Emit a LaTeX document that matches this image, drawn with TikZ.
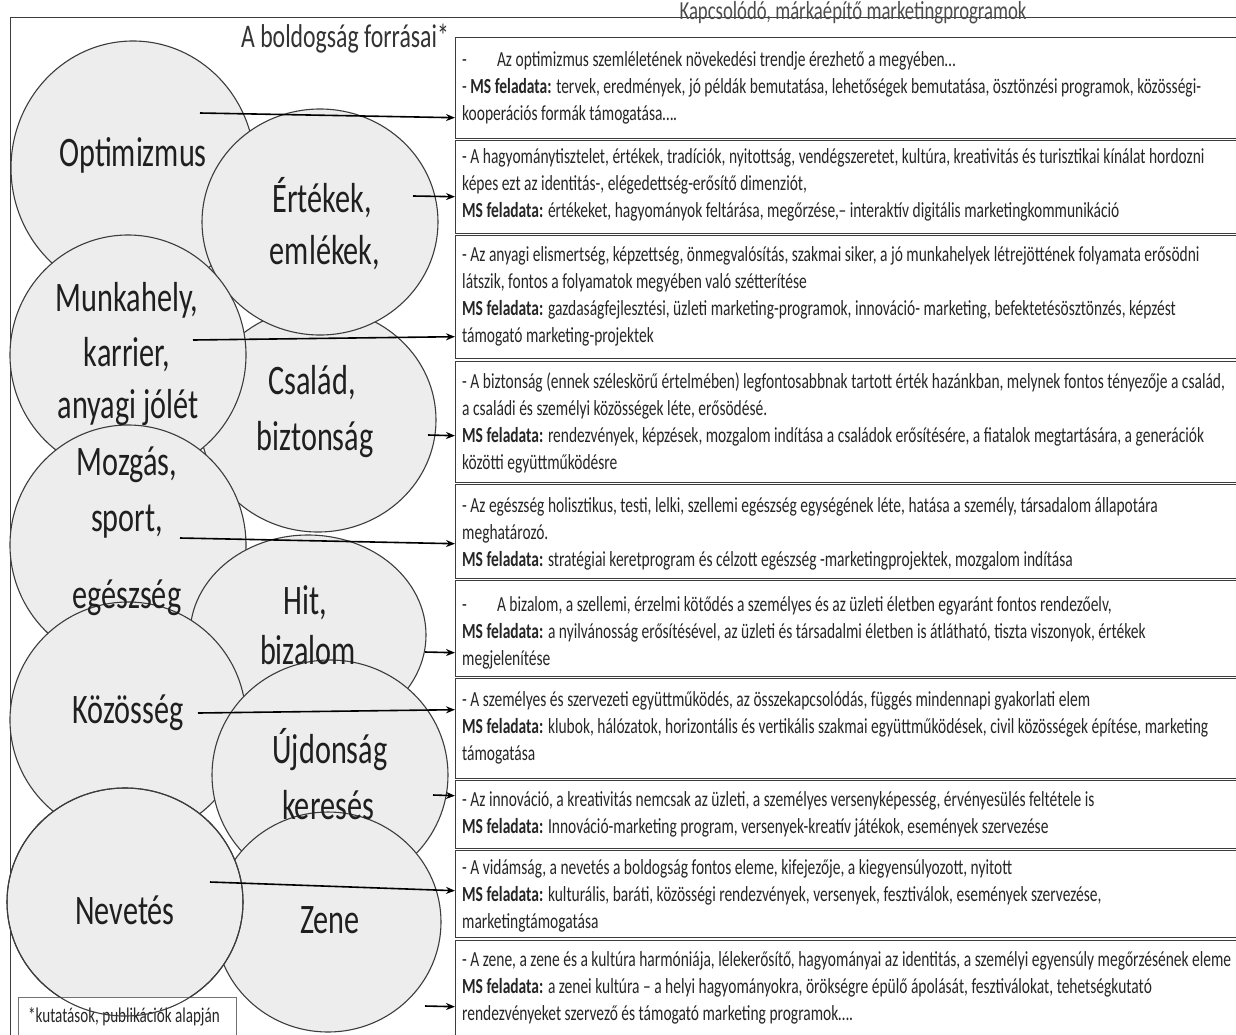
\documentclass[tikz,border=0pt]{standalone}
\usepackage{fontspec}
\setmainfont[FakeStretch=0.72]{Carlito}
\usetikzlibrary{shapes.geometric,arrows.meta}
\definecolor{bubblefill}{HTML}{EEEDED}
\definecolor{inkgray}{HTML}{3C3C3C}
\begin{document}
\begin{tikzpicture}[x=1pt,y=-1pt,
  bubble/.style={ellipse, draw=inkgray, line width=1.1pt, fill=bubblefill, inner sep=0pt},
  blabel/.style={font=\fontsize{42}{46}\selectfont, text=black!88, inner sep=0pt},
  infobox/.style={draw=inkgray, line width=1.4pt, fill=white, anchor=north west, minimum width=781pt, inner sep=0pt},
  infotext/.style={anchor=north west, align=left, inner sep=0pt, font=\fontsize{21.5}{27}\selectfont, text=black!85},
  link/.style={line width=1.6pt, -{Stealth[length=9pt,width=7pt]}}
]
\useasboundingbox[fill=white] (0,0) rectangle (1236,1034);

% outer frame
\draw[inkgray, line width=1pt] (10,1040) -- (10,17) -- (1240,17);

% headings
\node[font=\fontsize{26}{28}\selectfont, text=black!70, inner sep=0pt] (head2) at (853,13) {Kapcsolódó, márkaépítő marketingprogramok};
\node[font=\fontsize{33}{36}\selectfont, text=black!80, inner sep=0pt] (head1) at (345,39) {A boldogság forrásai*};

% right column boxes
\node[infobox, minimum height=101pt] (b1) at (455,37) {};
\node[infobox, minimum height=93pt]  (b2) at (455,140) {};
\node[infobox, minimum height=123pt] (b3) at (455,235) {};
\node[infobox, minimum height=121pt] (b4) at (455,361) {};
\node[infobox, minimum height=94pt]  (b5) at (455,484) {};
\node[infobox, minimum height=96pt]  (b6) at (455,580) {};
\node[infobox, minimum height=100pt] (b7) at (455,678) {};
\node[infobox, minimum height=68pt]  (b8) at (455,780) {};
\node[infobox, minimum height=87pt]  (b9) at (455,850) {};
\node[infobox, minimum height=100pt] (b10) at (455,940) {};

% box texts
\node[infotext] (t1) at (462,51) {-\hspace{1.4em}Az optimizmus szemléletének növekedési trendje érezhető a megyében…\\
- \textbf{MS feladata:} tervek, eredmények, jó példák bemutatása, lehetőségek bemutatása, ösztönzési programok, közösségi-\\
kooperációs formák támogatása….};
\node[infotext] (t2) at (462,148) {- A hagyománytisztelet, értékek, tradíciók, nyitottság, vendégszeretet, kultúra, kreativitás és turisztikai kínálat hordozni\\
képes ezt az identitás-, elégedettség-erősítő dimenziót,\\
\textbf{MS feladata:} értékeket, hagyományok feltárása, megőrzése,– interaktív digitális marketingkommunikáció};
\node[infotext] (t3) at (462,246) {- Az anyagi elismertség, képzettség, önmegvalósítás, szakmai siker, a jó munkahelyek létrejöttének folyamata erősödni\\
látszik, fontos a folyamatok megyében való szétterítése\\
\textbf{MS feladata:} gazdaságfejlesztési, üzleti marketing-programok, innováció- marketing, befektetésösztönzés, képzést\\
támogató marketing-projektek};
\node[infotext] (t4) at (462,373) {- A biztonság (ennek széleskörű értelmében) legfontosabbnak tartott érték hazánkban, melynek fontos tényezője a család,\\
a családi és személyi közösségek léte, erősödésé.\\
\textbf{MS feladata:} rendezvények, képzések, mozgalom indítása a családok erősítésére, a fiatalok megtartására, a generációk\\
közötti együttműködésre};
\node[infotext] (t5) at (462,497) {- Az egészség holisztikus, testi, lelki, szellemi egészség egységének léte, hatása a személy, társadalom állapotára\\
meghatározó.\\
\textbf{MS feladata:} stratégiai keretprogram és célzott egészség -marketingprojektek, mozgalom indítása};
\node[infotext] (t6) at (462,596) {-\hspace{1.4em}A bizalom, a szellemi, érzelmi kötődés a személyes és az üzleti életben egyaránt fontos rendezőelv,\\
\textbf{MS feladata:} a nyilvánosság erősítésével, az üzleti és társadalmi életben is átlátható, tiszta viszonyok, értékek\\
megjelenítése};
\node[infotext] (t7) at (462,691) {- A személyes és szervezeti együttműködés, az összekapcsolódás, függés mindennapi gyakorlati elem\\
\textbf{MS feladata:} klubok, hálózatok, horizontális és vertikális szakmai együttműködések, civil közösségek építése, marketing\\
támogatása};
\node[infotext] (t8) at (462,791) {- Az innováció, a kreativitás nemcsak az üzleti, a személyes versenyképesség, érvényesülés feltétele is\\
\textbf{MS feladata:} Innováció-marketing program, versenyek-kreatív játékok, események szervezése};
\node[infotext] (t9) at (462,859) {- A vidámság, a nevetés a boldogság fontos eleme, kifejezője, a kiegyensúlyozott, nyitott\\
\textbf{MS feladata:} kulturális, baráti, közösségi rendezvények, versenyek, fesztiválok, események szervezése,\\
marketingtámogatása};
\node[infotext] (t10) at (462,951) {- A zene, a zene és a kultúra harmóniája, lélekerősítő, hagyományai az identitás, a személyi egyensúly megőrzésének eleme\\
\textbf{MS feladata:} a zenei kultúra – a helyi hagyományokra, örökségre épülő ápolását, fesztiválokat, tehetségkutató\\
rendezvényeket szervező és támogató marketing programok….};

% sources of happiness
\node[bubble, minimum width=244pt, minimum height=254pt] (opt) at (133,168) {};
\node[bubble, minimum width=236pt, minimum height=224pt] (csa) at (318,420) {};
\node[bubble, minimum width=236pt, minimum height=226pt] (ert) at (320,222) {};
\node[bubble, minimum width=236pt, minimum height=240pt] (mun) at (128,355) {};
\node[bubble, minimum width=236pt, minimum height=240pt] (moz) at (128,545) {};
\node[bubble, minimum width=236pt, minimum height=200pt] (hit) at (308,635) {};
\node[bubble, minimum width=236pt, minimum height=236pt] (koz) at (128,720) {};
\node[bubble, minimum width=236pt, minimum height=230pt] (ujd) at (330,775) {};
\node[bubble, minimum width=226pt, minimum height=220pt] (zen) at (328,922) {};
\node[bubble, minimum width=236pt, minimum height=228pt] (nev) at (125,902) {};

% footnote
\node[draw=black!55, line width=0.9pt, fill=white, anchor=north west, minimum width=218pt, minimum height=45pt, inner sep=0pt] (note) at (18,997) {};
\node[font=\fontsize{21}{23}\selectfont, text=black!85, inner sep=0pt] (notetext) at (124,1017) {*kutatások, publikációk alapján};
\draw[inkgray, line width=1.1pt] (nev) ellipse [x radius=118pt, y radius=114pt];

% bubble labels
\node[blabel] (lopt) at (133,155) {Optimizmus};
\node[blabel] (lert1) at (322,198) {Értékek,};
\node[blabel] (lert2) at (325,253) {emlékek,};
\node[blabel] (lmun1) at (127,300) {Munkahely,};
\node[blabel] (lmun2) at (127,355) {karrier,};
\node[blabel] (lmun3) at (128,408) {anyagi jólét};
\node[blabel] (lcsa1) at (312,383) {Család,};
\node[blabel] (lcsa2) at (315,440) {biztonság};
\node[blabel] (lmoz1) at (127,465) {Mozgás,};
\node[blabel] (lmoz2) at (127,522) {sport,};
\node[blabel] (lmoz3) at (127,598) {egészség};
\node[blabel] (lhit1) at (305,603) {Hit,};
\node[blabel] (lhit2) at (308,650) {bizalom};
\node[blabel] (lkoz) at (128,713) {Közösség};
\node[blabel] (lujd1) at (330,750) {Újdonság};
\node[blabel] (lujd2) at (328,805) {keresés};
\node[blabel] (lnev) at (125,910) {Nevetés};
\node[blabel] (lzen) at (330,920) {Zene};

% connectors to the programme boxes
\draw[link] ([shift={(67,-55)}]opt.center) -- ([shift={(0,29.5)}]b1.west);
\draw[link] ([shift={(93,-26)}]ert.center) -- ([shift={(0,9.5)}]b2.west);
\draw[link] ([shift={(65,-15)}]mun.center) -- ([shift={(0,39.5)}]b3.west);
\draw[link] ([shift={(110,15)}]csa.center) -- ([shift={(0,13.5)}]b4.west);
\draw[link] ([shift={(52,-7)}]moz.center) -- ([shift={(0,12)}]b5.west);
\draw[link] ([shift={(117,17)}]hit.center) -- ([shift={(0,24)}]b6.west);
\draw[link] ([shift={(70,-7)}]koz.center) -- ([shift={(0,-19)}]b7.west);
\draw[link] ([shift={(103,20)}]ujd.center) -- ([shift={(0,-19)}]b8.west);
\draw[link] ([shift={(85,-20)}]nev.center) -- ([shift={(0,-3.5)}]b9.west);
\draw[link] ([shift={(97,84)}]zen.center) -- ([shift={(0,16)}]b10.west);
\end{tikzpicture}
\end{document}
